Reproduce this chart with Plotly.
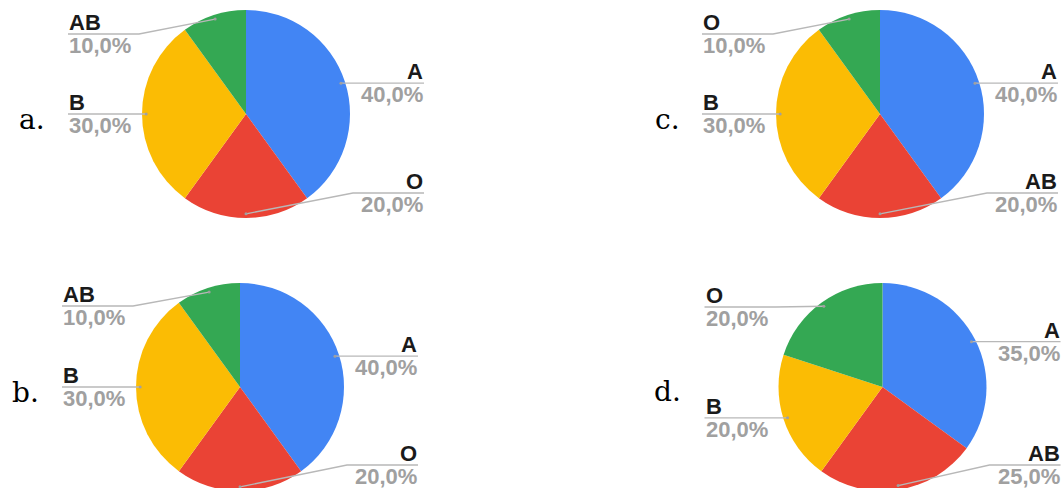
import math
import plotly.graph_objects as go

W, H = 1062, 496   # page window is 488 tall; bottom of the lower pies is clipped like the reference

# ---- data ----
panel_letters = ["a.", "b.", "c.", "d."]
labels_a = ["A", "O", "B", "AB"]
values_a = [40, 20, 30, 10]
labels_b = ["A", "O", "B", "AB"]
values_b = [40, 20, 30, 10]
labels_c = ["A", "AB", "B", "O"]
values_c = [40, 20, 30, 10]
labels_d = ["A", "AB", "B", "O"]
values_d = [35, 25, 20, 20]

slice_colors = ["#4285F4", "#EA4335", "#FBBC04", "#34A853"]

# layout geometry (pixel centre, radius, label band, letter position)
pies = [
    dict(letter=panel_letters[0], labels=labels_a, values=values_a, cx=246, cy=114, r=104,
         ylo=34, yhi=193, lx=17, ly=119),
    dict(letter=panel_letters[1], labels=labels_b, values=values_b, cx=240, cy=387, r=104,
         ylo=306, yhi=465, lx=10, ly=392),
    dict(letter=panel_letters[2], labels=labels_c, values=values_c, cx=880, cy=114, r=104,
         ylo=34, yhi=193, lx=653, ly=119),
    dict(letter=panel_letters[3], labels=labels_d, values=values_d, cx=882.5, cy=387, r=104,
         ylo=307, yhi=465, lx=652, ly=391),
]


def px(x):
    return x / W


def py(y):
    return 1 - y / H


fig = go.Figure()
shapes = []
annotations = []
LINE_COL = "#b8b8b8"
NAME_COL = "#1a1a1a"
PCT_COL = "#a0a0a0"
FONT = "Liberation Sans, Arial, sans-serif"
FS = 22

for p in pies:
    cx, cy, r = p["cx"], p["cy"], p["r"]
    fig.add_trace(go.Pie(
        labels=p["labels"], values=p["values"], sort=False,
        direction="clockwise", rotation=0,
        marker=dict(colors=slice_colors, line=dict(width=0)),
        textinfo="none", hoverinfo="label+percent", showlegend=False,
        domain=dict(x=[px(cx - r), px(cx + r)], y=[py(cy + r), py(cy - r)]),
    ))
    total = sum(p["values"])
    cum = 0
    for lab, v in zip(p["labels"], p["values"]):
        mid = (cum + v / 2) / total
        cum += v
        th = 2 * math.pi * mid
        dx = cx + 0.96 * r * math.sin(th)
        dy = cy - 0.96 * r * math.cos(th)
        right = math.sin(th) > -1e-9
        ly = min(max(dy, p["ylo"]), p["yhi"])
        sgn = 1 if right else -1
        end_x = cx + sgn * 178
        if abs(ly - dy) < 0.5:
            path = f"M {px(dx)} {py(dy)} L {px(end_x)} {py(dy)}"
        else:
            bx = cx + sgn * (r + 3)
            path = (f"M {px(dx)} {py(dy)} L {px(bx)} {py(ly)} "
                    f"L {px(end_x)} {py(ly)}")
        shapes.append(dict(type="path", xref="paper", yref="paper", path=path,
                           line=dict(color=LINE_COL, width=1.3)))
        shapes.append(dict(type="circle", xref="paper", yref="paper",
                           x0=px(dx - 1.5), x1=px(dx + 1.5),
                           y0=py(dy + 1.5), y1=py(dy - 1.5),
                           fillcolor="#a0a0a0", line=dict(width=0)))
        pct = f"{v / total * 100:.1f}".replace(".", ",") + "%"
        xa = "right" if right else "left"
        tx = end_x + (1 if right else -1)
        annotations.append(dict(x=px(tx), y=py(ly - 11.5), xref="paper", yref="paper",
                                text=f"<b>{lab}</b>", showarrow=False,
                                xanchor=xa, yanchor="middle",
                                font=dict(family=FONT, size=FS, color=NAME_COL)))
        annotations.append(dict(x=px(tx), y=py(ly + 11.5), xref="paper", yref="paper",
                                text=f"<b>{pct}</b>", showarrow=False,
                                xanchor=xa, yanchor="middle",
                                font=dict(family=FONT, size=FS, color=PCT_COL)))
    annotations.append(dict(x=px(p["lx"]), y=py(p["ly"]), xref="paper", yref="paper",
                            text=p["letter"], showarrow=False,
                            xanchor="left", yanchor="middle",
                            font=dict(family="DejaVu Serif, serif", size=28, color="#000000")))

fig.update_layout(
    width=W, height=H,
    margin=dict(l=0, r=0, t=0, b=0),
    paper_bgcolor="white", plot_bgcolor="white",
    shapes=shapes, annotations=annotations,
)

fig.write_html(
    "out.html",
    config={"displayModeBar": False},
    post_script="document.body.style.margin='0px';document.body.style.overflow='hidden';"
                "document.documentElement.style.overflow='hidden';",
)
